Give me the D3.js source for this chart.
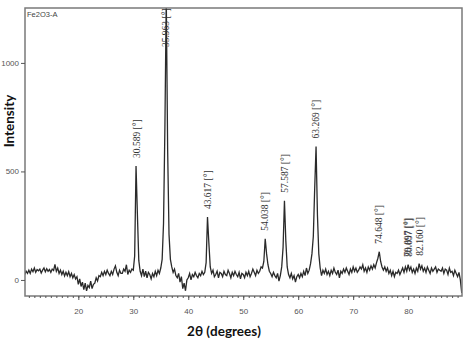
<!DOCTYPE html>
<html>
<head>
<meta charset="utf-8">
<script src="https://cdn.jsdelivr.net/npm/d3@7"></script>
<style>
  html, body { margin: 0; padding: 0; background: #fff; }
  svg { display: block; }
</style>
</head>
<body>
<svg id="chart" width="474" height="350"></svg>
<script>
// ---- data ----
const sampleName = "Fe2O3-A";
const xTitle = "2θ (degrees)";
const yTitle = "Intensity";
const xTickValues = [20, 30, 40, 50, 60, 70, 80];
const yTickValues = [0, 500, 1000];
// scan: start angle and step (degrees 2θ)
const scanStart = 10.25;
const scanStep = 0.25;
// intensities (counts), one per step
const intensity = [
  25, 40, 30,
  45, 30, 50, 38,
  55, 35, 48, 42,
  50, 32, 45, 55,
  38, 52, 40, 48,
  35, 50, 44, 72,
  40, 55, 30, 45,
  25, 40, 18, 35,
  20, 38, 15, 30,
  10, 25, 5, 15,
  -20, 5, -30, -10,
  -45, -15, -50, -25,
  -35, -5, -40, -20,
  -15, 10, -5, 20,
  15, 35, 20, 40,
  25, 45, 30, 20,
  40, 25, 50, 65,
  35, 20, 45, 30,
  30, 50, 40, 70,
  25, 45, 35, 50,
  45, 110, 525, 300,
  90, 40, 20, 50,
  15, 40, 10, 35,
  25, 5, 30, 15,
  40, 20, 45, 30,
  55, 95, 260, 700,
  1300, 600, 210, 95,
  60, 35, 50, 20,
  10, 30, -10, 15,
  -40, -15, -50, 0,
  10, 30, 0, 25,
  15, 35, 20, 10,
  30, 20, 40, 25,
  35, 80, 290, 170,
  60, 30, 45, 15,
  25, 40, 10, 35,
  30, 15, 40, 25,
  20, 45, 30, 10,
  35, 20, 40, 25,
  15, 35, 5, 30,
  25, 10, 35, 20,
  40, 15, 30, 50,
  35, 20, 45, 30,
  40, 60, 55, 85,
  190, 120, 70, 40,
  30, 15, 35, 20,
  10, 30, -5, 20,
  60, 150, 365, 180,
  60, 25, 10, 30,
  5, 20, -10, 15,
  25, 10, 30, 15,
  40, 20, 55, 30,
  45, 75, 120, 200,
  420, 615, 300, 120,
  55, 20, 45, 30,
  50, 25, 40, 20,
  45, 30, 55, 35,
  25, 45, 10, 40,
  30, 50, 35, 55,
  40, 25, 50, 35,
  60, 40, 55, 35,
  45, 60, 50, 70,
  40, 55, 35, 60,
  45, 65, 50, 70,
  55, 80, 100, 130,
  85, 60, 45, 60,
  40, 55, 30, 45,
  20, 40, 15, 35,
  30, 45, 25, 40,
  55, 35, 60, 40,
  70, 45, 60, 35,
  50, 30, 55, 40,
  75, 50, 65, 40,
  55, 35, 60, 45,
  30, 55, 40, 50,
  60, 35, 50, 45,
  40, 55, 30, 50,
  45, 25, 55, 35,
  40, 20, 45, 30,
  15, 35, 0, -60
];
// peak markers (position in degrees 2θ, label text)
const peakPositions = [30.589, 35.963, 43.617, 54.038, 57.587, 63.269, 74.648, 79.897, 80.097, 82.160];
const peakLabels = ["30.589 [°]", "35.963 [°]", "43.617 [°]", "54.038 [°]", "57.587 [°]", "63.269 [°]", "74.648 [°]", "79.897 [°]", "80.097 [°]", "82.160 [°]"];

// ---- chart ----
const svg = d3.select("#chart");
const x = d3.scaleLinear().domain([10.3, 89.8]).range([25, 462]);
const y = d3.scaleLinear().domain([-74, 1253]).range([296, 8]);

const points = intensity.map((v, i) => [scanStart + i * scanStep, v]);

svg.append("defs").append("clipPath").attr("id", "plotclip")
  .append("rect").attr("x", 25).attr("y", 8).attr("width", 437).attr("height", 288);

// data line
svg.append("path")
  .datum(points)
  .attr("clip-path", "url(#plotclip)")
  .attr("fill", "none")
  .attr("stroke", "#2a2a2a")
  .attr("stroke-width", 1.3)
  .attr("stroke-linejoin", "miter")
  .attr("d", d3.line().x(d => x(d[0])).y(d => y(d[1])));

// frame
svg.append("rect")
  .attr("x", 25).attr("y", 8).attr("width", 437).attr("height", 288)
  .attr("fill", "none").attr("stroke", "#7a7a7a").attr("stroke-width", 1.5);

// bottom axis: minor ticks
const minorTicks = d3.range(11, 90, 1);
const gMinor = svg.append("g").attr("transform", "translate(0,296)")
  .call(d3.axisBottom(x).tickValues(minorTicks).tickSize(2).tickFormat(""));
gMinor.select(".domain").remove();
gMinor.selectAll(".tick line").attr("stroke", "#555");

// bottom axis: major ticks
const gx = svg.append("g").attr("transform", "translate(0,296)")
  .call(d3.axisBottom(x).tickValues(xTickValues).tickSize(4).tickPadding(8));
gx.select(".domain").remove();
gx.selectAll(".tick line").attr("stroke", "#555");
gx.selectAll(".tick text").attr("fill", "#555")
  .style("font-family", "'Liberation Sans', Arial, sans-serif").style("font-size", "8px");

// left axis
const gy = svg.append("g").attr("transform", "translate(25,0)")
  .call(d3.axisLeft(y).tickValues(yTickValues).tickFormat(d3.format("d")).tickSize(4).tickPadding(2));
gy.select(".domain").remove();
gy.selectAll(".tick line").attr("stroke", "#555");
gy.selectAll(".tick text").attr("fill", "#555")
  .style("font-family", "'Liberation Sans', Arial, sans-serif").style("font-size", "8px");

// sample name
svg.append("text").attr("x", 27).attr("y", 17)
  .attr("fill", "#444")
  .style("font-family", "'Liberation Sans', Arial, sans-serif").style("font-size", "7.5px")
  .text(sampleName);

// peak labels
peakPositions.forEach((p, k) => {
  const near = points.filter(d => Math.abs(d[0] - p) <= 0.3);
  const top = d3.max(near, d => d[1]);
  const bottom = Math.max(y(top) - 8, 47);
  const px = x(p) + 3;
  svg.append("text")
    .attr("transform", `translate(${px},${bottom}) rotate(-90)`)
    .attr("fill", "#333")
    .style("font-family", "'Liberation Serif', 'Times New Roman', serif")
    .style("font-size", "9.5px")
    .text(peakLabels[k]);
});

// axis titles
svg.append("text")
  .attr("x", 224).attr("y", 336)
  .attr("text-anchor", "middle")
  .attr("fill", "#111")
  .style("font-family", "Lato, 'Open Sans', sans-serif").style("font-weight", "bold").style("font-size", "13.5px")
  .text(xTitle);

svg.append("text")
  .attr("transform", "translate(14,121) rotate(-90)")
  .attr("text-anchor", "middle")
  .attr("fill", "#111")
  .style("font-family", "Lato, 'Open Sans', sans-serif").style("font-weight", "bold").style("font-size", "13.5px")
  .text(yTitle);
</script>
</body>
</html>
